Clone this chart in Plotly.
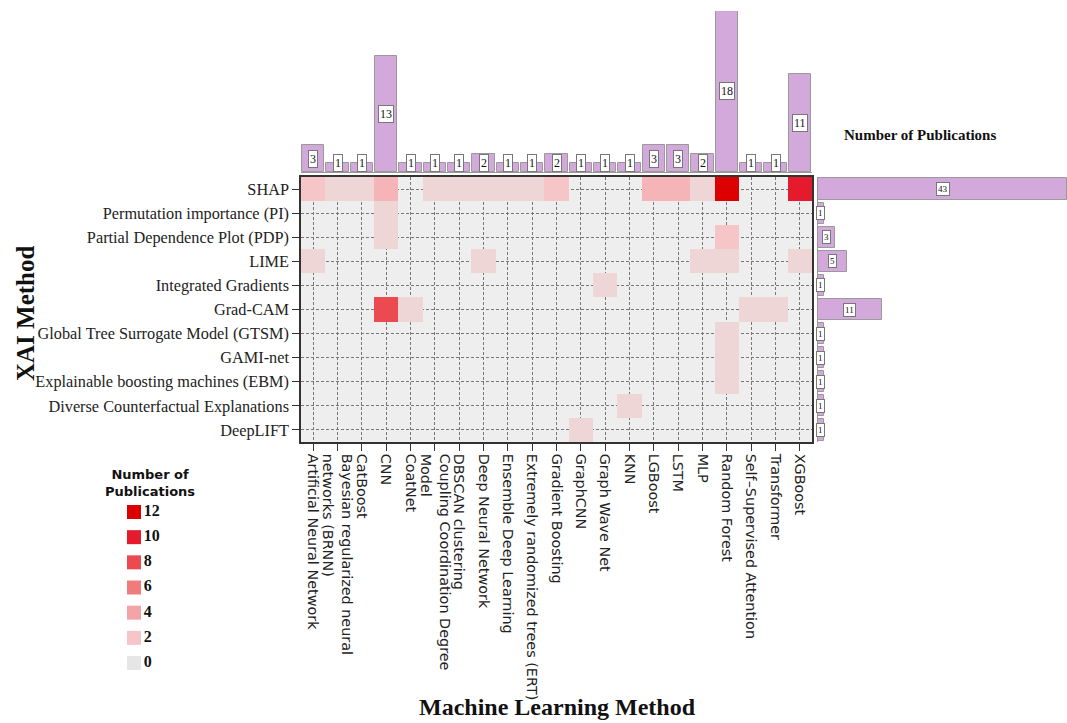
import plotly.graph_objects as go
from plotly.colors import sample_colorscale

# ---------------- data ----------------
ml_methods = [
    "Artificial Neural Network",
    "Bayesian regularized neural<br>networks (BRNN)",
    "CatBoost",
    "CNN",
    "CoatNet",
    "Coupling Coordination Degree<br>Model",
    "DBSCAN clustering",
    "Deep Neural Network",
    "Ensemble Deep Learning",
    "Extremely randomized trees (ERT)",
    "Gradient Boosting",
    "GraphCNN",
    "Graph Wave Net",
    "KNN",
    "LGBoost",
    "LSTM",
    "MLP",
    "Random Forest",
    "Self\u2013Supervised Attention",
    "Transformer",
    "XGBoost",
]

xai_methods = [
    "SHAP",
    "Permutation importance (PI)",
    "Partial Dependence Plot (PDP)",
    "LIME",
    "Integrated Gradients",
    "Grad-CAM",
    "Global Tree Surrogate Model (GTSM)",
    "GAMI-net",
    "Explainable boosting machines (EBM)",
    "Diverse Counterfactual Explanations",
    "DeepLIFT",
]

# publications per (XAI method, ML method); rows follow xai_methods, columns ml_methods
shap_row      = [2, 1, 1, 3, 0, 1, 1, 1, 1, 1, 2, 0, 0, 0, 3, 3, 1, 12, 0, 0, 10]
pi_row        = [0, 0, 0, 1, 0, 0, 0, 0, 0, 0, 0, 0, 0, 0, 0, 0, 0, 0, 0, 0, 0]
pdp_row       = [0, 0, 0, 1, 0, 0, 0, 0, 0, 0, 0, 0, 0, 0, 0, 0, 0, 2, 0, 0, 0]
lime_row      = [1, 0, 0, 0, 0, 0, 0, 1, 0, 0, 0, 0, 0, 0, 0, 0, 1, 1, 0, 0, 1]
ig_row        = [0, 0, 0, 0, 0, 0, 0, 0, 0, 0, 0, 0, 1, 0, 0, 0, 0, 0, 0, 0, 0]
gradcam_row   = [0, 0, 0, 8, 1, 0, 0, 0, 0, 0, 0, 0, 0, 0, 0, 0, 0, 0, 1, 1, 0]
gtsm_row      = [0, 0, 0, 0, 0, 0, 0, 0, 0, 0, 0, 0, 0, 0, 0, 0, 0, 1, 0, 0, 0]
gami_row      = [0, 0, 0, 0, 0, 0, 0, 0, 0, 0, 0, 0, 0, 0, 0, 0, 0, 1, 0, 0, 0]
ebm_row       = [0, 0, 0, 0, 0, 0, 0, 0, 0, 0, 0, 0, 0, 0, 0, 0, 0, 1, 0, 0, 0]
dice_row      = [0, 0, 0, 0, 0, 0, 0, 0, 0, 0, 0, 0, 0, 1, 0, 0, 0, 0, 0, 0, 0]
deeplift_row  = [0, 0, 0, 0, 0, 0, 0, 0, 0, 0, 0, 1, 0, 0, 0, 0, 0, 0, 0, 0, 0]

# marginal totals (as printed on the bars)
ml_totals  = [3, 1, 1, 13, 1, 1, 1, 2, 1, 1, 2, 1, 1, 1, 3, 3, 2, 18, 1, 1, 11]
xai_totals = [43, 1, 3, 5, 1, 11, 1, 1, 1, 1, 1]

legend_levels = [12, 10, 8, 6, 4, 2, 0]

# ---------------- styling ----------------
W, H = 1067, 723
SERIF = "Liberation Serif"
SANS = "DejaVu Sans"
BAR_COLOR = "#d2a9da"
BAR_LINE = "#9a9a9a"
CELL_BG = "#eeeeee"
colorscale = [
    [0.0, "#e6e6e6"],
    [2 / 12, "#f5c5c8"],
    [4 / 12, "#f4a3a6"],
    [6 / 12, "#f07b7d"],
    [8 / 12, "#ec4a51"],
    [10 / 12, "#e31b2c"],
    [1.0, "#dc0000"],
]

def px_x(p):
    return p / W

def px_y(p):
    return (H - p) / H

hm_x = [px_x(301), px_x(812)]
hm_y = [px_y(442), px_y(177)]
top_y = [px_y(172), px_y(11)]
right_x = [px_x(818), 1.0]

matrix = [shap_row, pi_row, pdp_row, lime_row, ig_row, gradcam_row,
          gtsm_row, gami_row, ebm_row, dice_row, deeplift_row]
z = [[(v if v > 0 else None) for v in row] for row in matrix]

ncol = len(ml_methods)
nrow = len(xai_methods)
xi = list(range(ncol))
yi = list(range(nrow))

fig = go.Figure()

fig.add_trace(go.Heatmap(
    z=z, x=xi, y=yi, zmin=0, zmax=12, colorscale=colorscale,
    showscale=False, xaxis="x", yaxis="y", hoverongaps=False,
))

fig.add_trace(go.Bar(
    x=xi, y=ml_totals, width=0.92,
    marker=dict(color=BAR_COLOR, line=dict(color=BAR_LINE, width=1)),
    xaxis="x2", yaxis="y2", showlegend=False,
))

fig.add_trace(go.Bar(
    y=yi, x=xai_totals, orientation="h", width=0.88,
    marker=dict(color=BAR_COLOR, line=dict(color=BAR_LINE, width=1)),
    xaxis="x3", yaxis="y3", showlegend=False,
))

# manual legend for the colour levels
leg_colors = sample_colorscale(colorscale, [v / 12 for v in legend_levels])
fig.add_trace(go.Scatter(
    x=[14] * len(legend_levels), y=legend_levels,
    mode="markers+text",
    marker=dict(symbol="square", size=14, color=leg_colors, line=dict(width=0)),
    text=[f"<b>{v}</b>" for v in legend_levels],
    textposition="middle right",
    textfont=dict(family=SERIF, size=16, color="#111"),
    xaxis="x4", yaxis="y4", showlegend=False, cliponaxis=False,
))

annotations = []
for i, v in enumerate(ml_totals):
    annotations.append(dict(
        x=i, y=max(v / 2, 0.95), xref="x2", yref="y2", text=str(v),
        showarrow=False, bgcolor="white", bordercolor="#777", borderwidth=1,
        borderpad=1, xanchor="center", yanchor="middle",
        font=dict(family=SERIF, size=12, color="#111"),
    ))
for j, v in enumerate(xai_totals):
    annotations.append(dict(
        x=v / 2, y=j, xref="x3", yref="y3", text=str(v),
        showarrow=False, bgcolor="white", bordercolor="#777", borderwidth=1,
        borderpad=1, xanchor="center", yanchor="middle",
        font=dict(family=SERIF, size=9, color="#111"),
    ))

annotations += [
    dict(x=px_x(920), y=px_y(135), xref="paper", yref="paper",
         xanchor="center", yanchor="middle",
         text="<b>Number of Publications</b>", showarrow=False,
         font=dict(family=SERIF, size=15, color="#111")),
    dict(x=px_x(25), y=px_y(313), xref="paper", yref="paper",
         xanchor="center", yanchor="middle",
         text="<b>XAI Method</b>", showarrow=False, textangle=-90,
         font=dict(family=SERIF, size=25, color="#111")),
    dict(x=px_x(557), y=px_y(707), xref="paper", yref="paper",
         xanchor="center", yanchor="middle",
         text="<b>Machine Learning Method</b>", showarrow=False,
         font=dict(family=SERIF, size=24, color="#111")),
    dict(x=px_x(150), y=px_y(483), xref="paper", yref="paper",
         xanchor="center", yanchor="middle",
         text="<b>Number of<br>Publications</b>", showarrow=False,
         font=dict(family=SANS, size=13, color="#111")),
]

shapes = [dict(type="rect", xref="x domain", yref="y domain", x0=0, x1=1, y0=0, y1=1,
               fillcolor=CELL_BG, line=dict(width=0), layer="below")]

fig.update_layout(
    width=W, height=H, autosize=False,
    margin=dict(l=0, r=0, t=0, b=0),
    paper_bgcolor="white", plot_bgcolor="rgba(0,0,0,0)",
    showlegend=False,
    bargap=0,
    xaxis=dict(
        domain=hm_x, range=[-0.5, ncol - 0.5], anchor="y",
        tickvals=xi, ticktext=ml_methods, tickangle=90,
        tickfont=dict(family=SANS, size=14.4, color="#222"),
        ticks="outside", ticklen=7, tickwidth=1.2, tickcolor="#333",
        showgrid=True, gridcolor="#777777", griddash="3px,2px", gridwidth=1,
        showline=True, mirror=True, linecolor="#333", linewidth=1.5,
        zeroline=False, automargin=False, fixedrange=True,
    ),
    yaxis=dict(
        domain=hm_y, range=[nrow - 0.5, -0.5], anchor="x",
        tickvals=yi, ticktext=xai_methods,
        tickfont=dict(family=SERIF, size=16.3, color="#222"),
        ticks="outside", ticklen=7, tickwidth=1.2, tickcolor="#333",
        showgrid=True, gridcolor="#777777", griddash="3px,2px", gridwidth=1,
        showline=True, mirror=True, linecolor="#333", linewidth=1.5,
        zeroline=False, automargin=False, fixedrange=True,
    ),
    xaxis2=dict(
        domain=hm_x, range=[-0.5, ncol - 0.5], anchor="y2",
        showticklabels=False, ticks="", showgrid=False, zeroline=False,
        showline=True, linecolor="#999", linewidth=1, automargin=False,
    ),
    yaxis2=dict(
        domain=top_y, range=[0, 18], anchor="x2",
        showticklabels=False, ticks="", showgrid=False, zeroline=False,
        showline=False, automargin=False,
    ),
    xaxis3=dict(
        domain=right_x, range=[0, 43], anchor="y3",
        showticklabels=False, ticks="", showgrid=False, zeroline=False,
        showline=False, automargin=False,
    ),
    yaxis3=dict(
        domain=hm_y, range=[nrow - 0.5, -0.5], anchor="x3",
        showticklabels=False, ticks="", showgrid=False, zeroline=False,
        showline=True, linecolor="#999", linewidth=1, automargin=False,
    ),
    xaxis4=dict(
        domain=[px_x(120), px_x(220)], range=[0, 100], anchor="y4",
        visible=False, automargin=False,
    ),
    yaxis4=dict(
        domain=[px_y(675.6), px_y(499.4)], range=[-1, 13], anchor="x4",
        visible=False, automargin=False,
    ),
    annotations=annotations,
    shapes=shapes,
)

fig.write_html(
    "out.html",
    config={"displayModeBar": False},
    post_script="document.body.style.margin='0';document.body.style.overflow='hidden';",
)
